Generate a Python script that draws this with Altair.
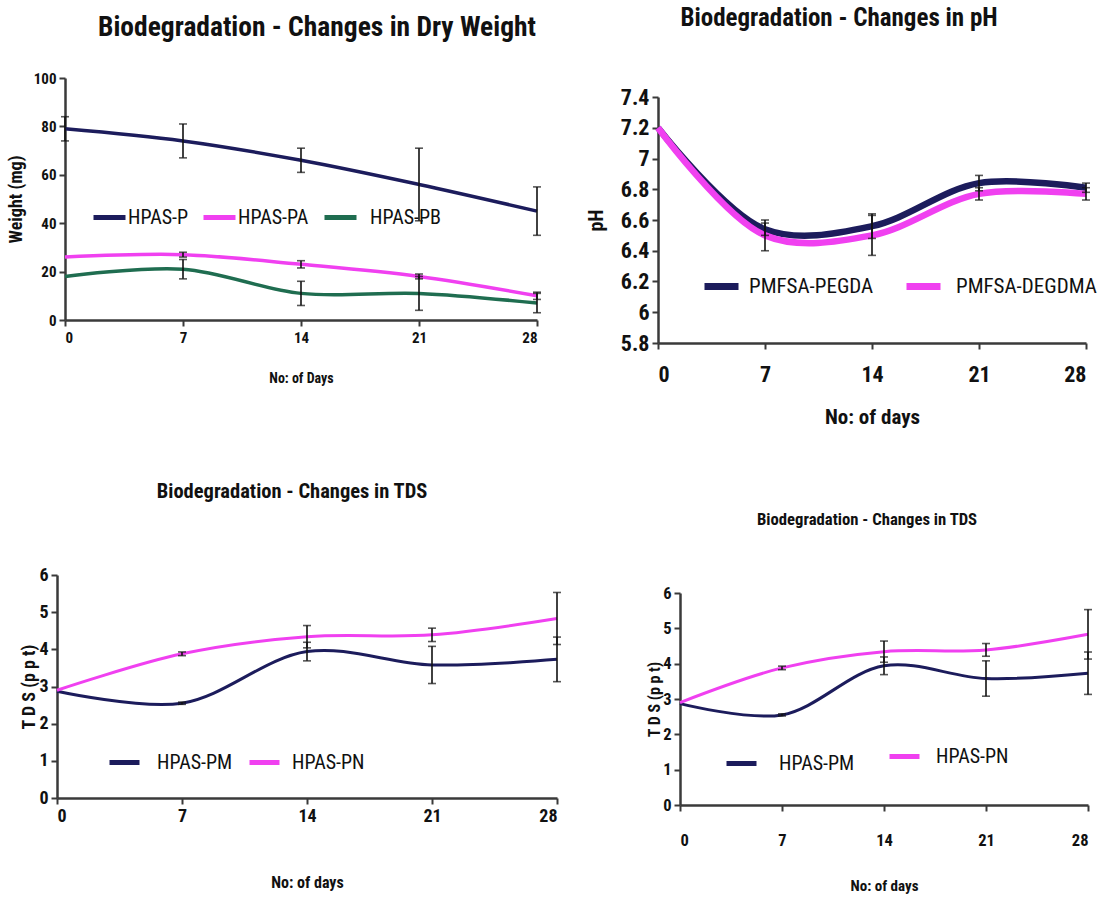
import altair as alt
import pandas as pd

days = [0, 7, 14, 21, 28]

# Panel 1: dry weight (mg)
w_series = ["HPAS-P", "HPAS-PA", "HPAS-PB"]
w_p = [79, 74, 66, 56, 45]
w_p_err = [5, 7, 5, 15, 10]
w_pa = [26, 27, 23, 18, 10]
w_pa_err = [0, 1, 1.5, 1, 1.5]
w_pb = [18, 21, 11, 11, 7]
w_pb_err = [0, 4, 5, 7, 4]

# Panel 2: pH
ph_series = ["PMFSA-PEGDA", "PMFSA-DEGDMA"]
ph_pegda = [7.2, 6.54, 6.56, 6.84, 6.81]
ph_pegda_err = [0, 0.04, 0.08, 0.05, 0.03]
ph_degdma = [7.2, 6.5, 6.5, 6.77, 6.77]
ph_degdma_err = [0, 0.1, 0.13, 0.04, 0.04]

# Panels 3 and 4: TDS (ppt)
tds_series = ["HPAS-PM", "HPAS-PN"]
tds_pm = [2.87, 2.55, 3.94, 3.58, 3.73]
tds_pm_err = [0, 0.03, 0.25, 0.5, 0.6]
tds_pn = [2.9, 3.88, 4.34, 4.39, 4.83]
tds_pn_err = [0, 0.05, 0.3, 0.18, 0.7]

titles = [
    "Biodegradation - Changes in Dry Weight",
    "Biodegradation - Changes in pH",
    "Biodegradation - Changes in TDS",
    "Biodegradation - Changes in TDS",
]

NAVY = "#1c1c5c"
MAGENTA = "#f040f0"
GREEN = "#1f6d50"
NARROW = "Roboto Condensed, Liberation Sans Narrow, Arial Narrow, sans-serif"
AXC = "#3a3a3a"


def frame(series, values, errs):
    rows = []
    for name, vals, es in zip(series, values, errs):
        for d, v, e in zip(days, vals, es):
            rows.append({"day": d, "value": v, "err": e, "series": name,
                         "lo": v - e, "hi": v + e})
    return pd.DataFrame(rows)


def panel(df, series, colors, legpos, xr, yr, ydom, yvals, xtitle, ytitle,
          lab_size, lab_pad, xt_size, xt_pad, yt_size, yt_pad, sw,
          leg_font, leg_sym, leg_sw):
    xs = alt.Scale(domain=[0, 28], range=xr, nice=False, zero=False)
    ys = alt.Scale(domain=ydom, range=yr, nice=False, zero=False)
    xaxis = alt.Axis(values=days, orient="bottom", offset=yr[0] - 898,
                     grid=False, title=xtitle, domainColor=AXC, domainWidth=2.5,
                     tickColor=AXC, tickWidth=2, tickSize=6,
                     labelFont=NARROW, labelFontWeight="bold", labelFontSize=lab_size,
                     labelColor="#111", labelPadding=lab_pad,
                     titleFont=NARROW, titleFontWeight="bold", titleFontSize=xt_size,
                     titleColor="#111", titlePadding=xt_pad)
    yaxis = alt.Axis(values=yvals, orient="left", offset=-xr[0], grid=False,
                     title=ytitle, domainColor=AXC, domainWidth=2.5,
                     tickColor=AXC, tickWidth=2, tickSize=6,
                     labelFont=NARROW, labelFontWeight="bold", labelFontSize=lab_size,
                     labelColor="#111", labelPadding=3,
                     labelExpr="datum.value + ''",
                     titleFont=NARROW, titleFontWeight="bold", titleFontSize=yt_size,
                     titleColor="#111", titlePadding=yt_pad)
    X = alt.X("day:Q", scale=xs, axis=xaxis)
    layers = []
    # one line layer (and one single-entry legend) per series
    for name, col, (lx, ly, loff) in zip(series, colors, legpos):
        legend = alt.Legend(orient="none", legendX=lx, legendY=ly, direction="horizontal",
                            title=None, symbolType="stroke", symbolSize=leg_sym * leg_sym,
                            symbolStrokeWidth=leg_sw, labelFont=NARROW,
                            labelFontSize=leg_font, labelColor="#111",
                            labelOffset=loff, labelLimit=400, padding=0)
        layers.append(
            alt.Chart(df[df["series"] == name]).mark_line(
                interpolate="catmull-rom", strokeWidth=sw).encode(
                x=X,
                y=alt.Y("value:Q", scale=ys, axis=yaxis),
                color=alt.Color("series:N", scale=alt.Scale(domain=[name], range=[col]),
                                legend=legend),
            )
        )
    ed = df[df["err"] > 0]
    rule = alt.Chart(ed).mark_rule(color="#111", strokeWidth=1.6).encode(
        x=X,
        y=alt.Y("lo:Q", scale=ys, axis=yaxis),
        y2="hi:Q",
    )
    caps_lo = alt.Chart(ed).mark_tick(color="#111", orient="horizontal", size=8,
                                      thickness=1.6).encode(
        x=X,
        y=alt.Y("lo:Q", scale=ys, axis=yaxis),
    )
    caps_hi = alt.Chart(ed).mark_tick(color="#111", orient="horizontal", size=8,
                                      thickness=1.6).encode(
        x=X,
        y=alt.Y("hi:Q", scale=ys, axis=yaxis),
    )
    return alt.layer(*layers, rule, caps_lo, caps_hi).resolve_scale(color="independent")


w_df = frame(w_series, [w_p, w_pa, w_pb], [w_p_err, w_pa_err, w_pb_err])
ph_df = frame(ph_series, [ph_pegda, ph_degdma], [ph_pegda_err, ph_degdma_err])
tds_df = frame(tds_series, [tds_pm, tds_pn], [tds_pm_err, tds_pn_err])

p1 = panel(w_df, w_series, [NAVY, MAGENTA, GREEN],
           [(91, 199, 0), (201, 199, 0), (322, 199, 11)],
           [65, 537], [320, 78], [0, 100],
           [0, 20, 40, 60, 80, 100], "No: of Days", "Weight (mg)",
           15, 4, 14, 26, 18, 8, 3.5, 20, 32, 5)
p2 = panel(ph_df, ph_series, [NAVY, MAGENTA],
           [(701, 266, 7), (903, 266, 12)],
           [658, 1086], [343, 97], [5.8, 7.4],
           [5.8, 6.0, 6.2, 6.4, 6.6, 6.8, 7.0, 7.2, 7.4], "No: of days", "pH",
           22, 15, 21, 21, 20, 14, 6.5, 21, 34, 7)
p3 = panel(tds_df, tds_series, [NAVY, MAGENTA],
           [(107, 745, 15), (247, 745, 10)],
           [57, 557], [798, 575], [0, 6],
           [0, 1, 2, 3, 4, 5, 6], "No: of days", "T D S (p p t)",
           18, 3, 16, 49, 18, 0, 3, 20, 30, 5)
p4 = panel(tds_df, tds_series, [NAVY, MAGENTA],
           [(724, 746, 20), (887, 739, 14)],
           [680, 1088], [805, 593], [0, 6],
           [0, 1, 2, 3, 4, 5, 6], "No: of days", "T D S (p p t)",
           16.5, 21, 15, 30, 16, 0, 3, 20, 30, 5)

title_df = pd.DataFrame({"t": titles})


def title_mark(i, x, y, size):
    return alt.Chart(title_df.iloc[[i]]).mark_text(
        font=NARROW, fontWeight="bold", fontSize=size, color="#111",
        align="center", baseline="middle").encode(
        text="t:N", x=alt.value(x), y=alt.value(y))


chart = alt.layer(
    p1, p2, p3, p4,
    title_mark(0, 317, 28, 27.5),
    title_mark(1, 839, 18, 25),
    title_mark(2, 292, 492, 20.5),
    title_mark(3, 867, 520, 16.7),
).resolve_scale(x="independent", y="independent", color="independent").properties(
    width=1112, height=898, autosize="none", padding=0,
    background="white",
).configure_view(stroke=None)

chart.save("out.html", embed_options={"renderer": "svg", "actions": False})
